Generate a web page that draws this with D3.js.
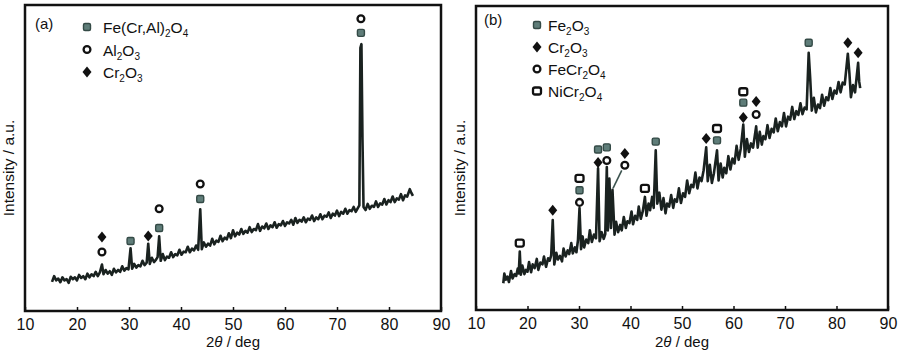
<!DOCTYPE html>
<html>
<head>
<meta charset="utf-8">
<script src="https://cdn.jsdelivr.net/npm/d3@7"></script>
<style>
  body { margin: 0; background: #fff; }
  svg { display: block; font-family: "Liberation Sans", Arial, sans-serif; }
</style>
</head>
<body>
<div id="chart"></div>
<script>
// x axis ticks, shared by both panels
const xTicks = [10, 20, 30, 40, 50, 60, 70, 80, 90]

// panel (a): [2theta, intensity]
const patternA = [
  [15.2, 95], [15.6, 114], [16.0, 100], [16.4, 106], [16.8, 94], [17.2, 110], [17.6, 100], [18.0, 104],
  [18.4, 92], [18.8, 112], [19.2, 104], [19.6, 110], [20.0, 100], [20.4, 118], [20.8, 108], [21.2, 114],
  [21.6, 104], [22.0, 122], [22.4, 110], [22.8, 120], [23.2, 114], [23.6, 128], [24.0, 114], [24.4, 126],
  [24.8, 152], [25.1, 120], [25.5, 134], [25.9, 122], [26.3, 130], [26.7, 118], [27.1, 138], [27.5, 126],
  [27.9, 134], [28.3, 128], [28.7, 146], [29.1, 132], [29.5, 140], [29.9, 136], [30.3, 205], [30.6, 138],
  [31.0, 154], [31.4, 142], [31.8, 150], [32.2, 146], [32.6, 164], [33.0, 150], [33.4, 158], [33.7, 220],
  [34.0, 154], [34.4, 174], [34.8, 160], [35.2, 168], [35.5, 176], [35.8, 244], [36.1, 164], [36.5, 186],
  [36.9, 166], [37.3, 178], [37.7, 174], [38.1, 192], [38.5, 176], [38.9, 186], [39.3, 182], [39.7, 200],
  [40.1, 184], [40.5, 194], [40.9, 192], [41.3, 210], [41.7, 192], [42.1, 204], [42.5, 198], [42.9, 214],
  [43.3, 200], [43.7, 332], [44.0, 202], [44.4, 224], [44.8, 210], [45.2, 220], [45.6, 214], [46.0, 236],
  [46.4, 218], [46.8, 230], [47.2, 226], [47.6, 246], [48.0, 228], [48.4, 240], [48.8, 234], [49.2, 254],
  [49.6, 238], [50.0, 264], [50.4, 244], [50.8, 256], [51.2, 250], [51.6, 268], [52.0, 252], [52.4, 262],
  [52.8, 256], [53.2, 274], [53.6, 258], [54.0, 268], [54.4, 264], [54.8, 284], [55.2, 262], [55.6, 276],
  [56.0, 270], [56.4, 286], [56.8, 268], [57.2, 280], [57.6, 274], [58.0, 290], [58.4, 272], [58.8, 284],
  [59.2, 280], [59.6, 294], [60.0, 278], [60.4, 290], [60.8, 286], [61.2, 298], [61.6, 282], [62.0, 304],
  [62.4, 288], [62.8, 298], [63.2, 292], [63.6, 306], [64.0, 290], [64.4, 302], [64.8, 298], [65.2, 312],
  [65.6, 294], [66.0, 306], [66.4, 300], [66.8, 316], [67.2, 300], [67.6, 312], [68.0, 308], [68.4, 322],
  [68.8, 304], [69.2, 318], [69.6, 312], [70.0, 328], [70.4, 310], [70.8, 324], [71.2, 318], [71.6, 334],
  [72.0, 318], [72.4, 330], [72.8, 326], [73.2, 340], [73.6, 324], [74.0, 336], [74.3, 345], [74.5, 860],
  [74.7, 872], [74.9, 560], [75.1, 340], [75.5, 330], [75.9, 350], [76.3, 334], [76.7, 344], [77.1, 340],
  [77.5, 358], [77.9, 340], [78.3, 352], [78.7, 348], [79.1, 366], [79.5, 348], [79.9, 362], [80.3, 356],
  [80.7, 374], [81.1, 356], [81.5, 368], [81.9, 364], [82.3, 382], [82.7, 362], [83.1, 378], [83.5, 374],
  [84.0, 398], [84.3, 386], [84.6, 376]
]

// panel (b): [2theta, intensity]
const patternB = [
  [15.3, 88], [15.5, 120], [15.8, 100], [16.1, 110], [16.4, 92], [16.8, 128], [17.1, 104], [17.5, 118],
  [17.8, 112], [18.1, 136], [18.3, 120], [18.5, 192], [18.7, 116], [19.0, 146], [19.4, 118], [19.7, 132],
  [20.0, 126], [20.3, 158], [20.7, 124], [21.0, 150], [21.4, 138], [21.8, 168], [22.1, 132], [22.5, 156],
  [22.9, 150], [23.2, 176], [23.6, 142], [24.0, 170], [24.3, 162], [24.6, 180], [24.9, 296], [25.2, 150],
  [25.6, 188], [25.9, 166], [26.3, 178], [26.7, 160], [27.0, 202], [27.4, 176], [27.8, 196], [28.1, 184],
  [28.5, 220], [28.8, 186], [29.2, 206], [29.5, 190], [29.8, 230], [30.1, 335], [30.4, 200], [30.7, 242],
  [31.0, 206], [31.4, 232], [31.8, 220], [32.1, 262], [32.5, 224], [32.9, 248], [33.3, 236], [33.7, 466],
  [34.0, 226], [34.4, 256], [34.8, 234], [35.1, 250], [35.4, 470], [35.6, 262], [35.9, 432], [36.2, 270],
  [36.5, 395], [36.9, 248], [37.2, 290], [37.6, 256], [38.0, 280], [38.3, 262], [38.7, 306], [39.1, 270],
  [39.4, 292], [39.8, 286], [40.2, 324], [40.5, 282], [40.9, 310], [41.3, 296], [41.6, 340], [42.0, 300],
  [42.4, 326], [42.8, 372], [43.1, 310], [43.5, 350], [43.8, 328], [44.2, 372], [44.5, 336], [44.9, 525],
  [45.2, 350], [45.6, 386], [46.0, 330], [46.4, 368], [46.8, 318], [47.1, 350], [47.5, 340], [47.9, 378],
  [48.3, 336], [48.6, 364], [49.0, 356], [49.4, 400], [49.8, 352], [50.2, 384], [50.6, 372], [51.0, 426],
  [51.4, 384], [51.8, 412], [52.2, 404], [52.6, 452], [53.0, 400], [53.4, 436], [53.8, 424], [54.2, 460],
  [54.7, 535], [55.0, 424], [55.4, 478], [55.8, 418], [56.2, 450], [56.8, 525], [57.1, 426], [57.5, 482],
  [57.9, 436], [58.2, 468], [58.6, 450], [59.0, 506], [59.4, 462], [59.8, 498], [60.2, 482], [60.6, 540],
  [61.0, 494], [61.4, 530], [61.9, 610], [62.2, 504], [62.6, 562], [63.0, 520], [63.4, 548], [63.8, 534],
  [64.4, 604], [64.7, 534], [65.1, 586], [65.5, 544], [65.8, 572], [66.2, 562], [66.6, 608], [67.0, 566],
  [67.4, 596], [67.8, 584], [68.2, 630], [68.6, 588], [69.0, 618], [69.4, 604], [69.8, 648], [70.2, 604],
  [70.6, 636], [71.0, 626], [71.4, 668], [71.8, 628], [72.2, 654], [72.6, 642], [73.0, 680], [73.4, 644],
  [73.8, 666], [74.2, 660], [74.6, 846], [74.9, 760], [75.2, 656], [75.6, 698], [76.0, 650], [76.4, 676],
  [76.8, 664], [77.2, 708], [77.6, 672], [78.0, 700], [78.4, 690], [78.8, 730], [79.2, 694], [79.6, 722],
  [80.0, 712], [80.4, 750], [80.8, 716], [81.2, 748], [81.6, 742], [82.2, 843], [82.5, 780], [82.8, 700],
  [83.2, 740], [83.6, 716], [84.2, 813], [84.4, 752], [84.6, 730]
]

// phase markers: [phase, 2theta, intensity]
const markersA = [
  ['spinel', 24.8, 193], ['cr2o3', 24.8, 242],
  ['spinelAl', 30.3, 229],
  ['cr2o3', 33.7, 245],
  ['spinelAl', 35.8, 271], ['spinel', 35.8, 334],
  ['spinelAl', 43.7, 366], ['spinel', 43.7, 415],
  ['spinelAl', 74.6, 909], ['spinel', 74.6, 955]
]
const markersB = [
  ['nicr', 18.5, 220],
  ['cr2o3', 24.9, 328],
  ['spinel', 30.1, 354], ['spinelAl', 30.1, 394], ['nicr', 30.1, 433],
  ['cr2o3', 33.7, 485], ['spinelAl', 33.7, 528],
  ['spinel', 35.4, 492], ['spinelAl', 35.4, 535],
  ['spinel', 38.9, 476], ['cr2o3', 38.9, 515],
  ['nicr', 42.8, 400],
  ['spinelAl', 44.9, 554],
  ['cr2o3', 54.7, 564],
  ['spinelAl', 56.8, 558], ['nicr', 56.8, 597],
  ['cr2o3', 61.9, 633], ['spinelAl', 61.9, 682], ['nicr', 61.9, 718],
  ['spinel', 64.4, 643], ['cr2o3', 64.4, 686],
  ['spinelAl', 74.6, 879],
  ['cr2o3', 82.2, 879],
  ['cr2o3', 84.2, 846]
]
// leader line from the FeCr2O4 marker to its peak in (b)
const leaderB = [[38.3, 459], [36.6, 400]]

// legends: [phase, label]
const legendA = [['spinelAl', 'Fe(Cr,Al)2O4'], ['spinel', 'Al2O3'], ['cr2o3', 'Cr2O3']]
const legendB = [['spinelAl', 'Fe2O3'], ['cr2o3', 'Cr2O3'], ['spinel', 'FeCr2O4'], ['nicr', 'NiCr2O4']]

const width = 899
const height = 351

const svg = d3.select('#chart').append('svg')
  .attr('width', width)
  .attr('height', height)

// draw one phase symbol
function symbol (g, phase, cx, cy) {
  if (phase === 'spinelAl') {
    g.append('rect')
      .attr('x', cx - 3.5).attr('y', cy - 3.5)
      .attr('width', 7).attr('height', 7).attr('rx', 1.5)
      .attr('fill', '#5f7d79').attr('stroke', '#344a46').attr('stroke-width', 1.4)
  } else if (phase === 'spinel') {
    g.append('circle')
      .attr('cx', cx).attr('cy', cy).attr('r', 3.4)
      .attr('fill', '#fff').attr('stroke', '#111').attr('stroke-width', 2.3)
  } else if (phase === 'cr2o3') {
    g.append('path')
      .attr('d', `M${cx},${cy - 5.5}L${cx + 4.5},${cy}L${cx},${cy + 5.5}L${cx - 4.5},${cy}Z`)
      .attr('fill', '#111')
  } else if (phase === 'nicr') {
    g.append('rect')
      .attr('x', cx - 4).attr('y', cy - 3.5)
      .attr('width', 8).attr('height', 7).attr('rx', 2)
      .attr('fill', '#fff').attr('stroke', '#111').attr('stroke-width', 2.3)
  }
}

// write a formula with the digits as subscripts
function formula (text, str) {
  const parts = str.split(/(\d+)/).filter(s => s.length)
  let sub = false
  parts.forEach(p => {
    const isDigit = /^\d+$/.test(p)
    const t = text.append('tspan').text(p)
    if (isDigit && !sub) { t.attr('dy', 4).attr('font-size', 10); sub = true } else if (isDigit) { t.attr('font-size', 10) } else if (sub) { t.attr('dy', -4); sub = false }
  })
}

function panel (cfg) {
  const x = d3.scaleLinear().domain([10, 90]).range([cfg.left, cfg.right])
  const y = d3.scaleLinear().domain([0, 1000]).range([cfg.bottom, cfg.top])
  const g = svg.append('g')

  // spectrum
  const line = d3.line()
    .x(d => x(d[0]))
    .y(d => y(d[1]))
  g.append('path')
    .datum(cfg.pattern)
    .attr('fill', 'none')
    .attr('stroke', '#1a2220')
    .attr('stroke-width', 2.6)
    .attr('stroke-linejoin', 'round')
    .attr('d', line)

  if (cfg.leader) {
    g.append('path')
      .datum(cfg.leader)
      .attr('fill', 'none')
      .attr('stroke', '#3d5450')
      .attr('stroke-width', 1.6)
      .attr('d', line)
  }

  // phase markers
  cfg.markers.forEach(([phase, t, v]) => symbol(g, phase, x(t), y(v)))

  // frame
  g.append('rect')
    .attr('x', cfg.left).attr('y', cfg.top)
    .attr('width', cfg.right - cfg.left).attr('height', cfg.bottom - cfg.top)
    .attr('fill', 'none').attr('stroke', '#111').attr('stroke-width', 2.5)

  // x axis, ticks pointing inward
  const axis = g.append('g')
    .attr('transform', `translate(0, ${cfg.bottom})`)
    .call(d3.axisBottom(x).tickValues(xTicks).tickSizeInner(-4).tickSizeOuter(0).tickPadding(8))
  axis.select('.domain').remove()
  axis.selectAll('line').attr('stroke', '#111').attr('stroke-width', 1.5)
  axis.selectAll('text')
    .attr('fill', '#111')
    .style('font-family', '"Liberation Sans", Arial, sans-serif')
    .style('font-size', '16px')

  // axis titles
  const xt = g.append('text')
    .attr('x', (cfg.left + cfg.right) / 2)
    .attr('y', 347)
    .attr('text-anchor', 'middle')
    .attr('font-size', 15)
    .attr('fill', '#111')
  xt.append('tspan').text('2')
  xt.append('tspan').attr('font-style', 'italic').text('θ')
  xt.append('tspan').text(' / deg')

  g.append('text')
    .attr('transform', `translate(${cfg.yTitleX}, 168) rotate(-90)`)
    .attr('text-anchor', 'middle')
    .attr('font-size', 15.5)
    .attr('fill', '#111')
    .text('Intensity / a.u.')

  // panel tag
  g.append('text')
    .attr('x', cfg.tag[1]).attr('y', cfg.tag[2])
    .attr('font-size', 15)
    .attr('fill', '#111')
    .text(cfg.tag[0])

  // legend
  cfg.legend.forEach(([phase, label], i) => {
    const ly = cfg.legendY + i * cfg.legendStep
    symbol(g, phase, cfg.legendX, ly)
    const t = g.append('text')
      .attr('x', cfg.legendX + cfg.legendGap)
      .attr('y', ly + 6)
      .attr('font-size', 15.5)
      .attr('fill', '#111')
    formula(t, label)
  })
}

panel({
  left: 25, right: 441, top: 5, bottom: 311,
  pattern: patternA, markers: markersA, legend: legendA,
  legendX: 87, legendY: 27, legendStep: 22.5, legendGap: 16,
  tag: ['(a)', 35, 29], yTitleX: 14
})

panel({
  left: 476, right: 888, top: 6, bottom: 310,
  pattern: patternB, markers: markersB, legend: legendB, leader: leaderB,
  legendX: 537, legendY: 25, legendStep: 22, legendGap: 11,
  tag: ['(b)', 484, 25], yTitleX: 465
})
</script>
</body>
</html>
